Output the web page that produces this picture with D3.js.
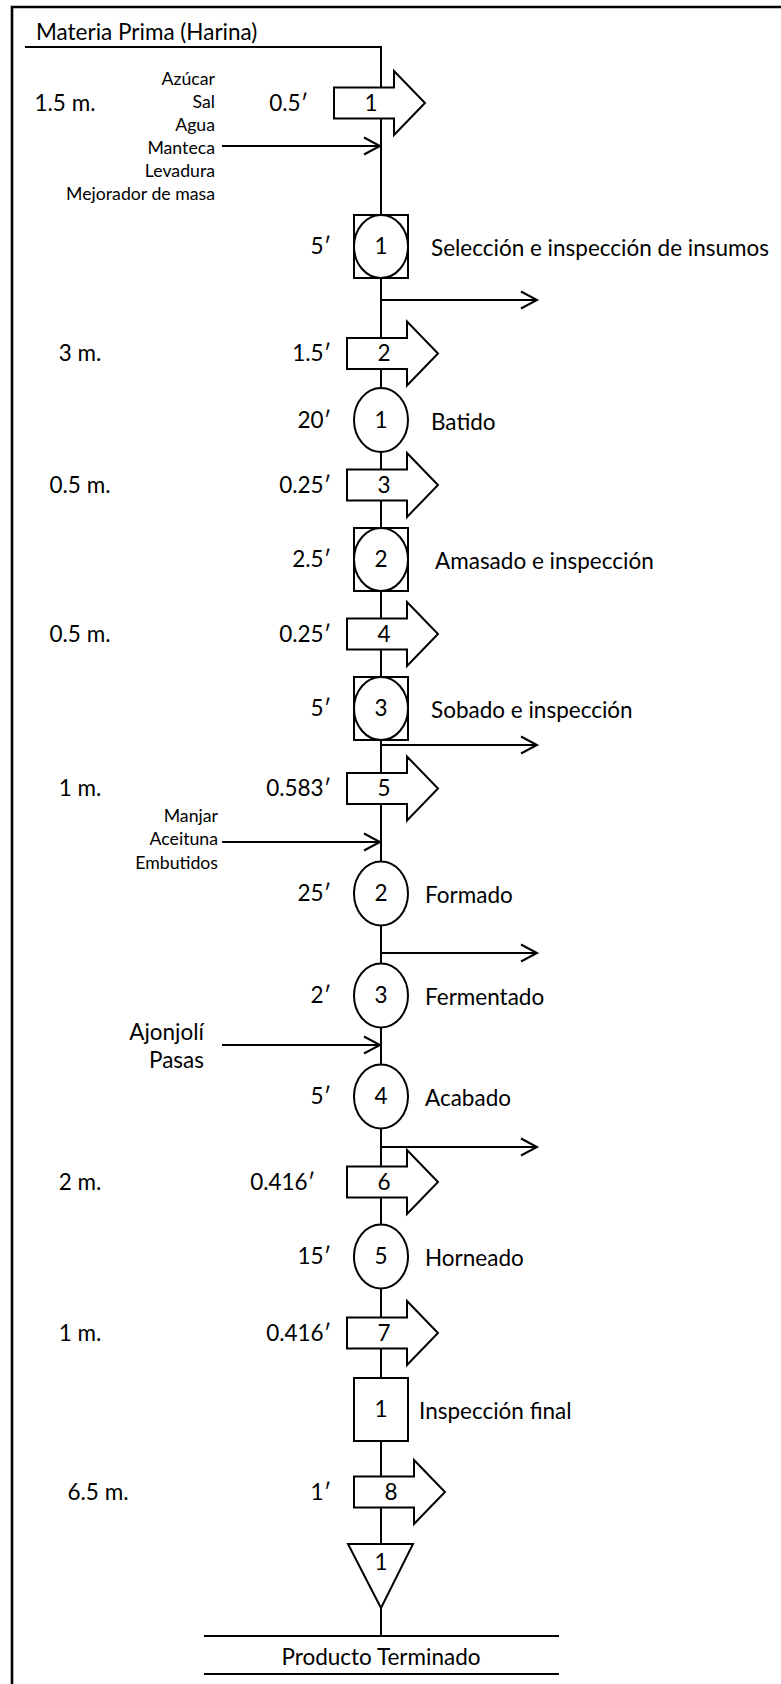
<!DOCTYPE html>
<html>
<head>
<meta charset="utf-8">
<script src="https://cdn.jsdelivr.net/npm/d3@7"></script>
<style>
  html, body { margin: 0; padding: 0; background: #fff; }
  svg text { font-family: Lato, "Open Sans", sans-serif; fill: #000; }
  .big { font-size: 22.5px; }
  .small { font-size: 17.7px; }
</style>
</head>
<body>
<svg id="chart" width="781" height="1684"></svg>
<script>
// Diagrama de análisis de proceso: secuencia de actividades
// T = transporte, O = operación, OI = operación e inspección, I = inspección, A = almacenamiento
const stepType     = ['T', 'OI', 'T', 'O', 'T', 'OI', 'T', 'OI', 'T', 'O', 'O', 'O', 'T', 'O', 'T', 'I', 'T', 'A'];
const stepNumber   = [1, 1, 2, 1, 3, 2, 4, 3, 5, 2, 3, 4, 6, 5, 7, 1, 8, 1];
const stepTime     = ['0.5′', '5′', '1.5′', '20′', '0.25′', '2.5′', '0.25′', '5′', '0.583′', '25′', '2′', '5′', '0.416′', '15′', '0.416′', '', '1′', ''];
const stepDistance = ['1.5 m.', '', '3 m.', '', '0.5 m.', '', '0.5 m.', '', '1 m.', '', '', '', '2 m.', '', '1 m.', '', '6.5 m.', ''];
const stepLabel    = ['', 'Selección e inspección de insumos', '', 'Batido', '', 'Amasado e inspección', '', 'Sobado e inspección', '',
                      'Formado', 'Fermentado', 'Acabado', '', 'Horneado', '', 'Inspección final', '', ''];

// insumos que entran después de un paso
const inputAfter = [0, 8, 10];
const inputItems = [
  ['Azúcar', 'Sal', 'Agua', 'Manteca', 'Levadura', 'Mejorador de masa'],
  ['Manjar', 'Aceituna', 'Embutidos'],
  ['Ajonjolí', 'Pasas']
];
// mermas / salidas después de un paso
const outputAfter = [1, 7, 9, 11];

const startLabel = 'Materia Prima (Harina)';
const endLabel = 'Producto Terminado';

// ---- layout ----
const cx = 381;
const rowKeys = [];
stepType.forEach((t, i) => {
  rowKeys.push('s' + i);
  if (outputAfter.includes(i)) rowKeys.push('out' + i);
  if (inputAfter.includes(i)) rowKeys.push('in' + i);
});
const rowY = [103, 146, 246.5, 300, 353.5, 420, 485, 559.5, 634, 708.5, 745, 788.5, 842, 893.5,
              953, 995.5, 1045, 1096.5, 1147, 1182, 1256.5, 1333, 1409.5, 1492, 1576];
const y = d3.scaleOrdinal().domain(rowKeys).range(rowY);

const arrowShift = { 0: -13, 16: 7 };
const timeShift = { 0: -23, 12: -16 };
const distShift = { 0: -15, 16: 18 };
const labelShift = { 5: 4, 9: -6, 10: -6, 11: -6, 13: -6, 15: -12 };
const inputLayout = [
  { at: 3, gap: 23, right: 215, cls: 'small', dy: 2 },
  { at: 1, gap: 23.5, right: 218, cls: 'small', dy: -3 },
  { at: 0.5, gap: 28, right: 204, cls: 'big', dy: 1 }
];

const svg = d3.select('#chart');
const line = d3.line();

// marco
svg.append('path')
  .attr('d', line([[12, 1684], [12, 7], [781, 7]]))
  .attr('fill', 'none').attr('stroke', '#000').attr('stroke-width', 2.6);

// línea principal
const lastY = y('s' + (stepType.length - 1));
svg.append('path')
  .attr('d', line([[25, 47], [cx, 47], [cx, 1636]]))
  .attr('fill', 'none').attr('stroke', '#000').attr('stroke-width', 2);

svg.append('text').attr('class', 'big')
  .attr('x', 36).attr('y', 40).text(startLabel);

function chevron(g, xTip, yc) {
  g.append('path')
    .attr('d', line([[xTip - 16, yc - 8.5], [xTip, yc], [xTip - 16, yc + 8.5]]))
    .attr('fill', 'none').attr('stroke', '#000').attr('stroke-width', 2);
}

// salidas
outputAfter.forEach(i => {
  const yy = y('out' + i);
  svg.append('path').attr('d', line([[cx, yy], [537, yy]]))
    .attr('stroke', '#000').attr('stroke-width', 2);
  chevron(svg, 537, yy);
});

// entradas
inputAfter.forEach((i, k) => {
  const yy = y('in' + i);
  const L = inputLayout[k];
  svg.append('path').attr('d', line([[222, yy], [cx, yy]]))
    .attr('stroke', '#000').attr('stroke-width', 2);
  chevron(svg, cx - 1, yy);
  svg.selectAll(null).data(inputItems[k]).join('text')
    .attr('class', L.cls)
    .attr('text-anchor', 'end')
    .attr('x', L.right)
    .attr('y', (d, j) => yy + (j - L.at) * L.gap + L.dy)
    .attr('dy', '0.35em')
    .text(d => d);
});

// símbolos
const steps = stepType.map((t, i) => ({
  i, type: t, num: stepNumber[i], time: stepTime[i], dist: stepDistance[i], label: stepLabel[i], y: y('s' + i)
}));

const g = svg.selectAll('g.step').data(steps).join('g').attr('class', 'step');

g.each(function (d) {
  const s = d3.select(this);
  const stroke = { fill: '#fff', stroke: '#000', 'stroke-width': 2 };
  const style = sel => { Object.entries(stroke).forEach(([k, v]) => sel.attr(k, v)); return sel; };
  let numX = cx, numY = d.y, leftEdge = 354;
  if (d.type === 'T') {
    const x0 = cx - 34 + (arrowShift[d.i] || 0);
    const yc = d.y;
    style(s.append('path').attr('d', line([
      [x0, yc - 15.5], [x0 + 60, yc - 15.5], [x0 + 60, yc - 32], [x0 + 91, yc],
      [x0 + 60, yc + 32], [x0 + 60, yc + 15.5], [x0, yc + 15.5]
    ]) + 'Z'));
    numX = x0 + 37;
    leftEdge = x0;
  } else if (d.type === 'OI') {
    style(s.append('rect').attr('x', cx - 27).attr('y', d.y - 31.5).attr('width', 54).attr('height', 63));
    style(s.append('ellipse').attr('cx', cx).attr('cy', d.y).attr('rx', 27).attr('ry', 31.5));
  } else if (d.type === 'O') {
    style(s.append('ellipse').attr('cx', cx).attr('cy', d.y).attr('rx', 27).attr('ry', 32));
  } else if (d.type === 'I') {
    style(s.append('rect').attr('x', cx - 27).attr('y', d.y - 31.5).attr('width', 54).attr('height', 63));
  } else if (d.type === 'A') {
    style(s.append('path').attr('d', line([[cx - 33, d.y - 32], [cx + 32, d.y - 32], [cx, d.y + 32]]) + 'Z'));
    numY = d.y - 14;
  }
  s.append('text').attr('class', 'big').attr('text-anchor', 'middle')
    .attr('x', numX).attr('y', numY).attr('dy', '0.35em').text(d.num);
  if (d.time) {
    s.append('text').attr('class', 'big').attr('text-anchor', 'end')
      .attr('x', 331 + (timeShift[d.i] || 0)).attr('y', d.y).attr('dy', '0.35em').text(d.time);
  }
  if (d.dist) {
    s.append('text').attr('class', 'big').attr('text-anchor', 'middle')
      .attr('x', 80 + (distShift[d.i] || 0)).attr('y', d.y).attr('dy', '0.35em').text(d.dist);
  }
  if (d.label) {
    s.append('text').attr('class', 'big')
      .attr('x', 431 + (labelShift[d.i] || 0)).attr('y', d.y + 2).attr('dy', '0.35em').text(d.label);
  }
});

// producto terminado
svg.append('path').attr('d', line([[204, 1636], [559, 1636]])).attr('stroke', '#000').attr('stroke-width', 2);
svg.append('path').attr('d', line([[204, 1674], [559, 1674]])).attr('stroke', '#000').attr('stroke-width', 2);
svg.append('text').attr('class', 'big').attr('text-anchor', 'middle')
  .attr('x', cx).attr('y', 1657).attr('dy', '0.35em').text(endLabel);
</script>
</body>
</html>
